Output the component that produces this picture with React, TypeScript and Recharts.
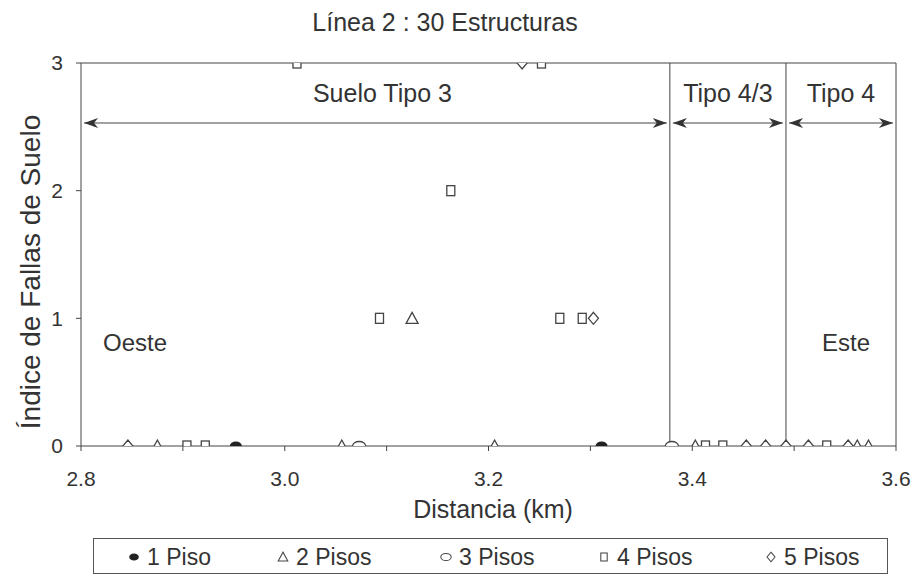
import React from "react"
import { ScatterChart, Scatter, XAxis, YAxis, ReferenceLine, ReferenceDot } from "recharts"

const piso1X = [2.952, 3.311]
const piso1Y = [0, 0]
const piso2X = [2.875, 3.056, 3.206, 3.403, 3.562, 3.573, 3.125]
const piso2Y = [0, 0, 0, 0, 0, 0, 1]
const piso3X = [3.073, 3.38]
const piso3Y = [0, 0]
const piso4X = [2.904, 2.922, 3.413, 3.43, 3.532, 3.093, 3.27, 3.292, 3.163, 3.012, 3.252]
const piso4Y = [0, 0, 0, 0, 0, 1, 1, 1, 2, 3, 3]
const piso5X = [2.846, 3.453, 3.472, 3.492, 3.514, 3.553, 3.303, 3.233]
const piso5Y = [0, 0, 0, 0, 0, 0, 1, 3]

const xTicks = [2.8, 2.9, 3.0, 3.1, 3.2, 3.3, 3.4, 3.5, 3.6]
const yTicks = [0, 1, 2, 3]

const dividers = [3.378, 3.492]
const zoneLabels = ["Suelo Tipo 3", "Tipo 4/3", "Tipo 4"]
const zoneFrom = [2.803, 3.381, 3.495]
const zoneTo = [3.375, 3.489, 3.597]
const zoneY = 2.53

const sideLabels = ["Oeste", "Este"]
const sideX = [2.853, 3.551]
const sideY = 0.81

const FONT = "'Liberation Sans', Arial, sans-serif"
const INK = "#444"
const TXT = "#333"

const toPoints = (xs: number[], ys: number[]) => xs.map((x, i) => ({ x, y: ys[i] }))

// marker shapes, one per number of floors
const FilledDot = ({ cx, cy }: any) => <ellipse cx={cx} cy={cy} rx={6} ry={4.5} fill="#222" />
const Tri = ({ cx, cy }: any) => (
  <polygon points={`${cx - 6},${cy + 5} ${cx + 6},${cy + 5} ${cx},${cy - 6}`} fill="#fff" stroke={INK} strokeWidth={1.3} />
)
const Oval = ({ cx, cy }: any) => (
  <ellipse cx={cx} cy={cy} rx={6.5} ry={4.5} fill="#fff" stroke={INK} strokeWidth={1.3} />
)
const Box = ({ cx, cy }: any) => (
  <rect x={cx - 4} y={cy - 5} width={8} height={10} fill="#fff" stroke={INK} strokeWidth={1.3} />
)
const Diamond = ({ cx, cy }: any) => (
  <polygon points={`${cx},${cy - 6} ${cx + 5},${cy} ${cx},${cy + 6} ${cx - 5},${cy}`} fill="#fff" stroke={INK} strokeWidth={1.3} />
)

const head = (x: number, y: number, dir: number) =>
  `M${x},${y} L${x - dir * 14},${y - 5} L${x - dir * 10},${y} L${x - dir * 14},${y + 5} Z`

const ZoneArrow = (props: any) => {
  const { x1, y1, x2, text } = props
  const l = Math.min(x1, x2)
  const r = Math.max(x1, x2)
  return (
    <g>
      <line x1={l} y1={y1} x2={r} y2={y1} stroke={INK} strokeWidth={1.2} />
      <path d={head(l, y1, -1)} fill="#333" />
      <path d={head(r, y1, 1)} fill="#333" />
      <text x={(l + r) / 2 + (r - l > 300 ? 7 : 0)} y={y1 - 21} textAnchor="middle" fontSize={25} fill={TXT} fontFamily={FONT}>
        {text}
      </text>
    </g>
  )
}

const SideText = (text: string) => (props: any) => (
  <text x={props.cx} y={props.cy + 8} textAnchor="middle" fontSize={24} fill={TXT} fontFamily={FONT}>
    {text}
  </text>
)

const legendItems = [
  { label: "1 Piso", at: 134, Shape: FilledDot },
  { label: "2 Pisos", at: 283, Shape: Tri },
  { label: "3 Pisos", at: 446, Shape: Oval },
  { label: "4 Pisos", at: 604, Shape: Box },
  { label: "5 Pisos", at: 771, Shape: Diamond },
]

const xFmt = (v: number) => (Math.round(v * 10) % 2 === 0 ? v.toFixed(1) : "")

export default function App() {
  const tickStyle = { fontSize: 21, fill: TXT, fontFamily: FONT }
  return (
    <div style={{ position: "absolute", left: 0, top: 0, width: 914, height: 577, background: "#fff" }}>
      <ScatterChart width={914} height={577} margin={{ top: 63, right: 18, left: 0, bottom: 0 }}>
        <XAxis
          type="number"
          dataKey="x"
          domain={[2.8, 3.6]}
          ticks={xTicks}
          tickFormatter={xFmt}
          interval={0}
          height={131}
          tick={tickStyle}
          tickSize={5}
          tickMargin={20}
          axisLine={{ stroke: INK }}
          tickLine={{ stroke: INK }}
          allowDataOverflow
        />
        <YAxis
          type="number"
          dataKey="y"
          domain={[0, 3]}
          ticks={yTicks}
          width={81}
          tick={tickStyle}
          tickSize={5}
          tickMargin={13}
          axisLine={{ stroke: INK }}
          tickLine={{ stroke: INK }}
          allowDataOverflow
        />
        <ReferenceLine y={3} stroke={INK} strokeWidth={1} />
        <ReferenceLine x={3.6} stroke={INK} strokeWidth={1} />
        {dividers.map((d) => (
          <ReferenceLine key={d} x={d} stroke={INK} strokeWidth={1} />
        ))}
        {zoneLabels.map((t, i) => (
          <ReferenceLine
            key={t}
            segment={[
              { x: zoneFrom[i], y: zoneY },
              { x: zoneTo[i], y: zoneY },
            ]}
            shape={(p: any) => <ZoneArrow {...p} text={t} />}
          />
        ))}
        {sideLabels.map((t, i) => (
          <ReferenceDot key={t} x={sideX[i]} y={sideY} r={0} shape={SideText(t)} />
        ))}
        <Scatter name="1 Piso" data={toPoints(piso1X, piso1Y)} shape={FilledDot} isAnimationActive={false} />
        <Scatter name="2 Pisos" data={toPoints(piso2X, piso2Y)} shape={Tri} isAnimationActive={false} />
        <Scatter name="3 Pisos" data={toPoints(piso3X, piso3Y)} shape={Oval} isAnimationActive={false} />
        <Scatter name="4 Pisos" data={toPoints(piso4X, piso4Y)} shape={Box} isAnimationActive={false} />
        <Scatter name="5 Pisos" data={toPoints(piso5X, piso5Y)} shape={Diamond} isAnimationActive={false} />
      </ScatterChart>
      <svg
        width={914}
        height={577}
        style={{ position: "absolute", left: 0, top: 0, pointerEvents: "none" }}
        fontFamily={FONT}
        fill={TXT}
      >
        <text x={445} y={31} textAnchor="middle" fontSize={25}>
          Línea 2 : 30 Estructuras
        </text>
        <text x={40} y={272} textAnchor="middle" fontSize={28} transform="rotate(-90 40 272)">
          Índice de Fallas de Suelo
        </text>
        <text x={493} y={518} textAnchor="middle" fontSize={25}>
          Distancia (km)
        </text>
        <rect x={93.5} y={538.5} width={794} height={35} fill="none" stroke="#555" strokeWidth={1} />
        {legendItems.map(({ label, at, Shape }) => (
          <g key={label}>
            <g transform={`translate(${at} 557) scale(0.8)`}>
              <Shape cx={0} cy={0} />
            </g>
            <text x={at + 13} y={565} fontSize={23}>
              {label}
            </text>
          </g>
        ))}
      </svg>
    </div>
  )
}
